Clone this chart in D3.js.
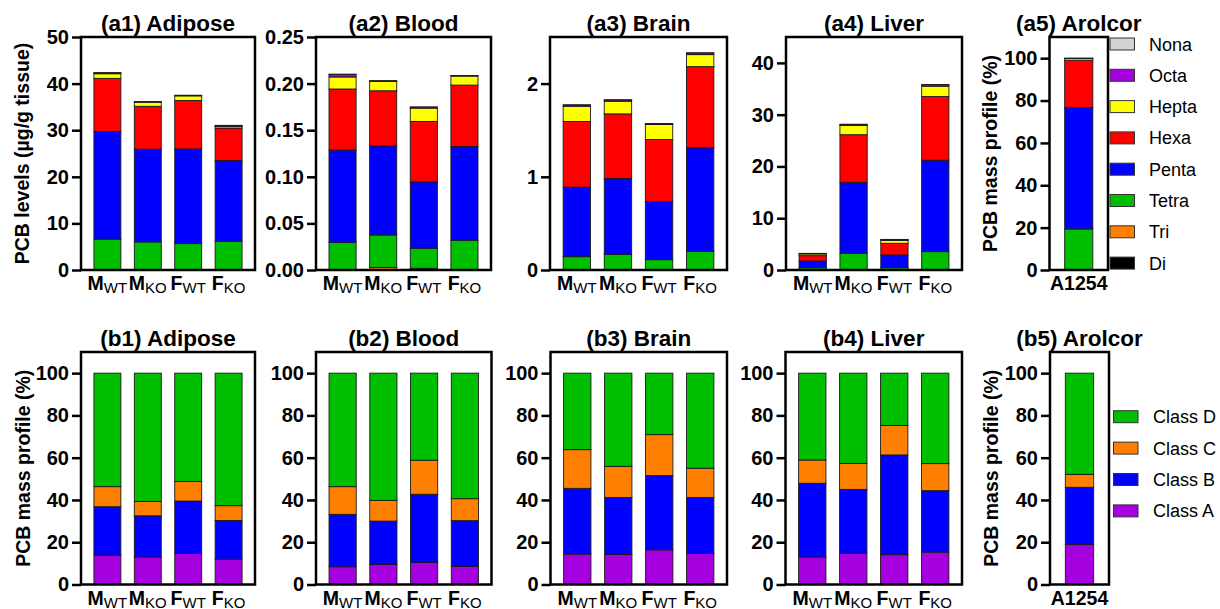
<!DOCTYPE html>
<html>
<head>
<meta charset="utf-8">
<script src="https://cdn.jsdelivr.net/npm/d3@7"></script>
<style>
  html, body { margin: 0; padding: 0; background: #fff; }
  svg { display: block; }
  text { font-family: "Liberation Sans", Arial, Helvetica, sans-serif; fill: #000; }
</style>
</head>
<body>
<svg id="chart" width="1220" height="609"></svg>
<script>
// ---------------- DATA ----------------
const groups = ["M|WT", "M|KO", "F|WT", "F|KO"];
const aroclorGroups = ["A1254"];
const homologs = ["Di", "Tri", "Tetra", "Penta", "Hexa", "Hepta", "Octa", "Nona"];
const classes = ["Class A", "Class B", "Class C", "Class D"];

// homolog levels (rows follow `homologs`, columns follow `groups`)
const adiposeLevels = [
  [0.02, 0.02, 0.02, 0.02],
  [0.05, 0.05, 0.05, 0.05],
  [6.55, 5.95, 5.6, 6.1],
  [23.1, 19.9, 20.3, 17.3],
  [11.4, 9.2, 10.4, 7.0],
  [1.0, 0.9, 1.0, 0.35],
  [0.2, 0.1, 0.1, 0.2],
  [0.02, 0.02, 0.02, 0.02]
];
const bloodLevels = [
  [0.0002, 0.0003, 0.0003, 0.0002],
  [0.0003, 0.0025, 0.0015, 0.0003],
  [0.0292, 0.0348, 0.0215, 0.0314],
  [0.099, 0.0956, 0.0713, 0.1006],
  [0.0655, 0.0591, 0.0648, 0.0659],
  [0.0129, 0.0101, 0.0143, 0.0097],
  [0.0028, 0.0006, 0.0011, 0.0004],
  [0.0002, 0.0001, 0.0001, 0.0001]
];
const brainLevels = [
  [0.001, 0.001, 0.001, 0.001],
  [0.003, 0.003, 0.003, 0.003],
  [0.139, 0.164, 0.107, 0.196],
  [0.746, 0.814, 0.625, 1.111],
  [0.704, 0.693, 0.664, 0.871],
  [0.164, 0.136, 0.161, 0.129],
  [0.014, 0.014, 0.01, 0.018],
  [0.001, 0.001, 0.001, 0.001]
];
const liverLevels = [
  [0.01, 0.02, 0.01, 0.02],
  [0.03, 0.05, 0.03, 0.05],
  [0.4, 3.16, 0.41, 3.48],
  [1.3, 13.7, 2.45, 17.65],
  [1.03, 9.2, 2.26, 12.3],
  [0.33, 1.8, 0.54, 2.0],
  [0.1, 0.2, 0.2, 0.3],
  [0.01, 0.01, 0.01, 0.01]
];
const aroclorHomologProfile = [
  [0.02], [0.05], [19.3], [57.3], [22.4], [0.8], [0.1], [0.03]
];

// class profiles (%) (rows follow `classes`)
const adiposeClasses = [
  [13.9, 13.0, 14.7, 12.0],
  [22.9, 19.5, 24.8, 18.3],
  [9.5, 6.8, 9.2, 7.0],
  [53.7, 60.7, 51.3, 62.7]
];
const bloodClasses = [
  [8.4, 9.5, 10.4, 8.5],
  [24.8, 20.5, 32.3, 21.7],
  [13.1, 9.8, 16.1, 10.4],
  [53.7, 60.2, 41.2, 59.4]
];
const brainClasses = [
  [14.4, 14.2, 16.4, 14.7],
  [31.1, 27.0, 35.1, 26.5],
  [18.3, 14.7, 19.4, 13.8],
  [36.2, 44.1, 29.1, 45.0]
];
const liverClasses = [
  [13.0, 14.8, 14.1, 15.3],
  [34.9, 30.2, 47.2, 29.1],
  [11.0, 12.3, 13.9, 12.8],
  [41.1, 42.7, 24.8, 42.8]
];
const aroclorClasses = [[19.0], [27.0], [6.1], [47.9]];

// axis ticks
const adiposeTicks = [0, 10, 20, 30, 40, 50];
const bloodTicks = [0, 0.05, 0.10, 0.15, 0.20, 0.25];
const brainTicks = [0, 1, 2];
const liverTicks = [0, 10, 20, 30, 40];
const percentTicks = [0, 20, 40, 60, 80, 100];

// ---------------- STYLE ----------------
const homologColors = {
  Di: "#000000", Tri: "#FF8000", Tetra: "#00BE00", Penta: "#0000FF",
  Hexa: "#FF0000", Hepta: "#FFFF00", Octa: "#A600E0", Nona: "#D3D3D3"
};
const classColors = {
  "Class A": "#A600E0", "Class B": "#0000FF", "Class C": "#FF8000", "Class D": "#00BE00"
};

const svg = d3.select("#chart");

function drawPanel(p) {
  const g = svg.append("g");
  const y = d3.scaleLinear().domain([0, p.ymax]).range([p.y1, p.y0]);
  const x = d3.scaleBand().domain(p.cats).range([p.x0, p.x1])
    .paddingInner(p.cats.length > 1 ? 0.333 : 0).paddingOuter(p.cats.length > 1 ? 0.32 : 0.54);

  const table = p.cats.map((c, i) => {
    const row = { cat: c };
    p.keys.forEach((k, j) => { row[k] = p.values[j][i]; });
    return row;
  });
  const series = d3.stack().keys(p.keys)(table);

  series.forEach(s => {
    g.append("g").selectAll("rect").data(s).join("rect")
      .attr("x", d => x(d.data.cat))
      .attr("width", x.bandwidth())
      .attr("y", d => y(d[1]))
      .attr("height", d => Math.max(0, y(d[0]) - y(d[1])))
      .attr("fill", p.colors[s.key])
      .attr("stroke", "#1a1a1a")
      .attr("stroke-width", 0.9);
  });

  // frame
  g.append("rect")
    .attr("x", p.x0).attr("y", p.y0)
    .attr("width", p.x1 - p.x0).attr("height", p.y1 - p.y0)
    .attr("fill", "none").attr("stroke", "#000").attr("stroke-width", 2.5);

  // y axis
  const ax = g.append("g").attr("transform", `translate(${p.x0},0)`)
    .call(d3.axisLeft(y).tickValues(p.ticks).tickFormat(p.fmt).tickSize(9).tickPadding(3));
  ax.select(".domain").remove();
  ax.selectAll(".tick line").attr("stroke", "#000").attr("stroke-width", 2.5);
  ax.selectAll(".tick text")
    .style("font-family", '"Liberation Sans", Arial, sans-serif')
    .style("font-size", "20px").style("font-weight", "bold").attr("fill", "#000");

  // x labels
  p.cats.forEach(c => {
    const parts = c.split("|");
    const t = g.append("text")
      .attr("x", x(c) + x.bandwidth() / 2)
      .attr("y", p.y1 + 20)
      .attr("text-anchor", "middle")
      .style("font-size", "19.5px").style("font-weight", "bold");
    t.append("tspan").text(parts[0]);
    if (parts[1]) {
      t.append("tspan").attr("dy", 3).style("font-size", "15px").style("font-weight", "normal").text(parts[1]);
    }
  });

  // title
  g.append("text")
    .attr("x", (p.x0 + p.x1) / 2).attr("y", p.y0 - 6)
    .attr("text-anchor", "middle")
    .style("font-size", "22.5px").style("font-weight", "bold")
    .text(p.title);

  // y label
  if (p.ylabel) {
    g.append("text")
      .attr("transform", `translate(${p.ylabelX},${(p.y0 + p.y1) / 2}) rotate(-90)`)
      .attr("text-anchor", "middle")
      .style("font-size", "19.5px").style("font-weight", "bold")
      .text(p.ylabel);
  }
}

function drawLegend(keys, colors, x, yStart, step, textX) {
  const g = svg.append("g");
  keys.forEach((k, i) => {
    const cy = yStart + i * step;
    g.append("rect").attr("x", x).attr("y", cy - 6).attr("width", 24.5).attr("height", 12)
      .attr("fill", colors[k]).attr("stroke", "#333").attr("stroke-width", 1);
    g.append("text").attr("x", textX).attr("y", cy + 6.5)
      .style("font-size", "18px").text(k);
  });
}

const intFmt = d3.format("d");
const fix2 = d3.format(".2f");

const top0 = 37, top1 = 270;
const bot0 = 352, bot1 = 584.5;

drawPanel({ title: "(a1) Adipose", x0: 81, x1: 255, y0: top0, y1: top1, ymax: 50, ticks: adiposeTicks, fmt: intFmt,
  cats: groups, keys: homologs, values: adiposeLevels, colors: homologColors,
  ylabel: "PCB levels (µg/g tissue)", ylabelX: 29 });
drawPanel({ title: "(a2) Blood", x0: 316, x1: 491, y0: top0, y1: top1, ymax: 0.25, ticks: bloodTicks, fmt: fix2,
  cats: groups, keys: homologs, values: bloodLevels, colors: homologColors });
drawPanel({ title: "(a3) Brain", x0: 550, x1: 727, y0: top0, y1: top1, ymax: 2.5, ticks: brainTicks, fmt: intFmt,
  cats: groups, keys: homologs, values: brainLevels, colors: homologColors });
drawPanel({ title: "(a4) Liver", x0: 786, x1: 962, y0: top0, y1: top1, ymax: 45, ticks: liverTicks, fmt: intFmt,
  cats: groups, keys: homologs, values: liverLevels, colors: homologColors });
drawPanel({ title: "(a5) Arolcor", x0: 1049.5, x1: 1108, y0: top0, y1: top1, ymax: 110, ticks: percentTicks, fmt: intFmt,
  cats: aroclorGroups, keys: homologs, values: aroclorHomologProfile, colors: homologColors,
  ylabel: "PCB mass profile (%)", ylabelX: 997 });

drawPanel({ title: "(b1) Adipose", x0: 81, x1: 255, y0: bot0, y1: bot1, ymax: 110, ticks: percentTicks, fmt: intFmt,
  cats: groups, keys: classes, values: adiposeClasses, colors: classColors,
  ylabel: "PCB mass profile (%)", ylabelX: 30 });
drawPanel({ title: "(b2) Blood", x0: 316, x1: 491.5, y0: bot0, y1: bot1, ymax: 110, ticks: percentTicks, fmt: intFmt,
  cats: groups, keys: classes, values: bloodClasses, colors: classColors });
drawPanel({ title: "(b3) Brain", x0: 550.5, x1: 727, y0: bot0, y1: bot1, ymax: 110, ticks: percentTicks, fmt: intFmt,
  cats: groups, keys: classes, values: brainClasses, colors: classColors });
drawPanel({ title: "(b4) Liver", x0: 785.5, x1: 962, y0: bot0, y1: bot1, ymax: 110, ticks: percentTicks, fmt: intFmt,
  cats: groups, keys: classes, values: liverClasses, colors: classColors });
drawPanel({ title: "(b5) Arolcor", x0: 1050, x1: 1109, y0: bot0, y1: bot1, ymax: 110, ticks: percentTicks, fmt: intFmt,
  cats: aroclorGroups, keys: classes, values: aroclorClasses, colors: classColors,
  ylabel: "PCB mass profile (%)", ylabelX: 998 });

drawLegend(homologs.slice().reverse(), homologColors, 1110, 44, 31.3, 1149);
drawLegend(classes.slice().reverse(), classColors, 1113.5, 416.7, 31.4, 1153);
</script>
</body>
</html>
